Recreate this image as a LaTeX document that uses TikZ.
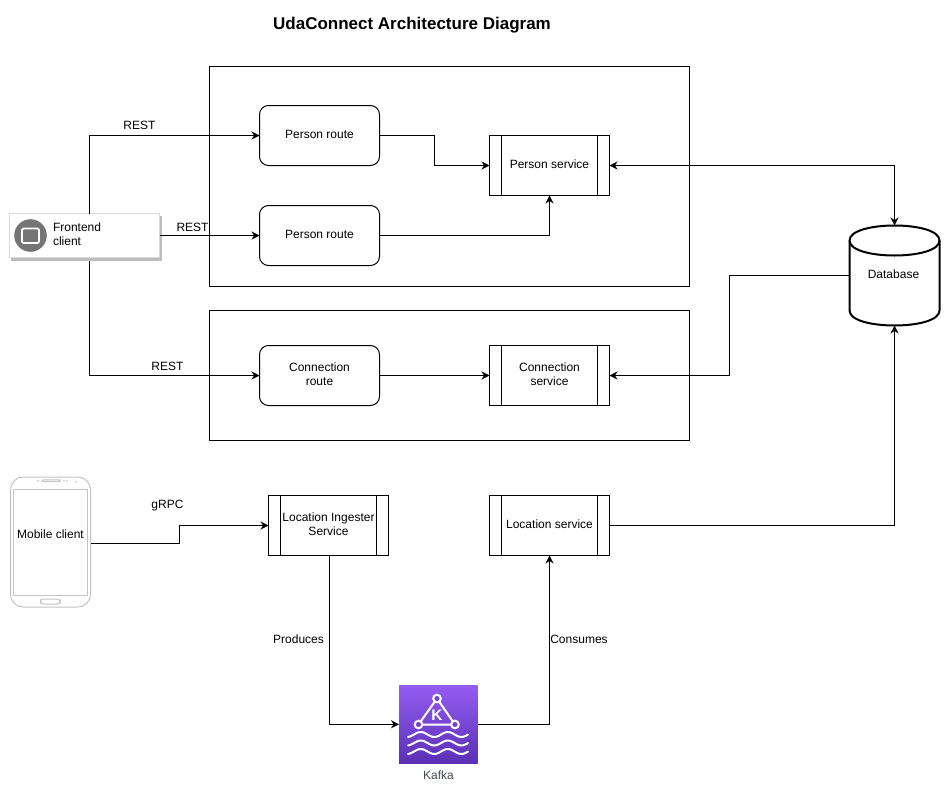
\documentclass[tikz,border=0pt]{standalone}
\usepackage{fontspec}
\setmainfont{Liberation Sans}
\usetikzlibrary{arrows.meta}
\definecolor{phonegray}{HTML}{C4C4C4}
\definecolor{iconink}{HTML}{757575}
\definecolor{kafkatop}{HTML}{945DF2}
\definecolor{kafkabot}{HTML}{5A30B5}
\definecolor{kafkatext}{HTML}{444B55}
\tikzset{
  x=0.75pt, y=-0.75pt,
  every node/.style={font=\fontsize{9}{10.5}\selectfont, inner sep=0pt, outer sep=0pt, align=center},
  base/.style={draw=black, line width=0.75pt, fill=white, execute at end node={\rule[-1.7pt]{0pt}{0pt}}},
  routebox/.style={base, rounded corners=6.75pt, minimum width=90pt, minimum height=45pt},
  servicebox/.style={base, minimum width=90pt, minimum height=45pt},
  container/.style={draw=black, line width=0.75pt},
  conn/.style={draw=black, line width=0.75pt, -{Stealth[length=6pt,width=6pt]}},
  both/.style={draw=black, line width=0.75pt, {Stealth[length=6pt,width=6pt]}-{Stealth[length=6pt,width=6pt]}},
  lbl/.style={},
  wave/.style={draw=white, line width=1.5pt, line cap=round},
  phone/.style={draw=phonegray, line width=0.75pt},
}
\newcommand{\svcbars}[1]{%
  \draw[line width=0.75pt] ([xshift=9pt]#1.north west) -- ([xshift=9pt]#1.south west);
  \draw[line width=0.75pt] ([xshift=-9pt]#1.north east) -- ([xshift=-9pt]#1.south east);
}
\newcommand{\kwave}[1]{%
  \draw[wave, domain=408:468, samples=40, variable=\t] plot (\t,{#1-2.5*sin((\t-414)*13.3)});
}
\begin{document}
\begin{tikzpicture}
\useasboundingbox (0,0) rectangle (946,789);
\fill[white] (0,0) rectangle (946,789);

\node[font=\fontsize{12.75}{15}\selectfont\bfseries] (title) at (412,25) {UdaConnect Architecture Diagram};

% containers
\draw[container] (209.5,66.5) rectangle (689.5,286.5);
\draw[container] (209.5,310.5) rectangle (689.5,440.5);

% routes and services
\node[routebox] (pr1) at (319.5,135.5) {Person route};
\node[routebox] (pr2) at (319.5,235.5) {Person route};
\node[routebox] (cr) at (319.5,375.5) {Connection\\route};
\node[servicebox] (ps) at (549.5,165.5) {Person service};
\node[servicebox] (cs) at (549.5,375.5) {Connection\\service};
\node[servicebox] (li) at (328.5,525.5) {Location Ingester\\Service};
\node[servicebox] (ls) at (549.5,525.5) {Location service};
\svcbars{ps}\svcbars{cs}\svcbars{li}\svcbars{ls}

% frontend client
\fill[black!26] (11,216) rectangle (162,261);
\node[draw=black!15, line width=0.75pt, fill=white, minimum width=112.5pt, minimum height=33pt] (fe) at (84.5,235.5) {};
\fill[iconink] (30.5,235.5) circle (16.3);
\draw[white, line width=1.3pt, rounded corners=1pt, fill=iconink] (22,228.5) rectangle (39,243);
\node[anchor=west, align=left] (fetext) at (53,234) {Frontend\\client};
\coordinate (fetop) at (89.5,213.5);
\coordinate (febot) at (89.5,261);

% mobile client
\node[minimum width=60pt, minimum height=97.5pt] (mob) at (50.5,542) {};
\draw[phone, rounded corners=9.5pt] (mob.north west) rectangle (mob.south east);
\draw[phone, line width=0.6pt] (13,489) rectangle (87.5,595);
\draw[phone, rounded corners=1pt] (42,479.8) rectangle (60,481.6);
\fill[phonegray] (38,480.7) circle (0.9) (64,480.7) circle (0.9) (67,480.7) circle (0.9) (76,481.5) circle (1);
\draw[phone, rounded corners=2.2pt] (40.5,599) rectangle (60,604);
\node (moblbl) at (50.5,534) {Mobile client};
\coordinate (mobout) at (91,543.5);

% database
\node[minimum width=68.25pt, minimum height=75pt] (db) at (894.5,275.5) {};
\draw[line width=1.5pt, fill=white] (849.5,240.5)
  .. controls (849.5,220.5) and (939.5,220.5) .. (939.5,240.5)
  -- (939.5,310.5)
  .. controls (939.5,330.5) and (849.5,330.5) .. (849.5,310.5) -- cycle;
\draw[line width=1.5pt] (849.5,240.5) .. controls (849.5,260.5) and (939.5,260.5) .. (939.5,240.5);
\node (dblbl) at (893.5,274) {Database};

% kafka
\shade[top color=kafkatop, bottom color=kafkabot] (399,685) rectangle (477.5,763.5);
\node[minimum width=58.9pt, minimum height=58.9pt] (kafka) at (438.25,724.25) {};
\draw[white, line width=1.5pt] (437,698.5) -- (418.5,724.5) -- (455,724.5) -- cycle;
\foreach \cx/\cy in {437/698.5, 418.5/724.5, 455/724.5}
  \draw[white, line width=1.5pt, fill=kafkabot!55!kafkatop] (\cx,\cy) circle (3.8);
\node[text=white, font=\fontsize{11.5}{12}\selectfont\bfseries] (k) at (437,715) {K};
\kwave{734.5}\kwave{743}\kwave{751.5}
\node[text=kafkatext] (kafkalbl) at (438.5,775.5) {Kafka};

% connectors
\coordinate (liout) at ([xshift=0.75pt]li.south);
\draw[conn] (fetop) |- (pr1.west);
\draw[conn] (fe.east) -- (pr2.west);
\draw[conn] (febot) |- (cr.west);
\draw[conn] (pr1.east) -- (434.5,135.5) |- (ps.west);
\draw[conn] (pr2.east) -| (ps.south);
\draw[both] (ps.east) -| (db.north);
\draw[conn] (cr.east) -- (cs.west);
\draw[conn] (db.west) -- (729.5,275.5) |- (cs.east);
\draw[conn] (mobout) -- (179.5,543.5) |- (li.west);
\draw[conn] (liout) |- (kafka.west);
\draw[conn] (kafka.east) -| (ls.south);
\draw[conn] (ls.east) -| (db.south);

% labels
\node[lbl] (l1) at (139.5,125) {REST};
\node[lbl] (l2) at (192.5,227) {REST};
\node[lbl] (l3) at (167.5,366) {REST};
\node[lbl] (l4) at (167.5,506) {gRPC};
\node[lbl] (l5) at (298.5,639) {Produces};
\node[lbl] (l6) at (579,639) {Consumes};
\end{tikzpicture}
\end{document}
